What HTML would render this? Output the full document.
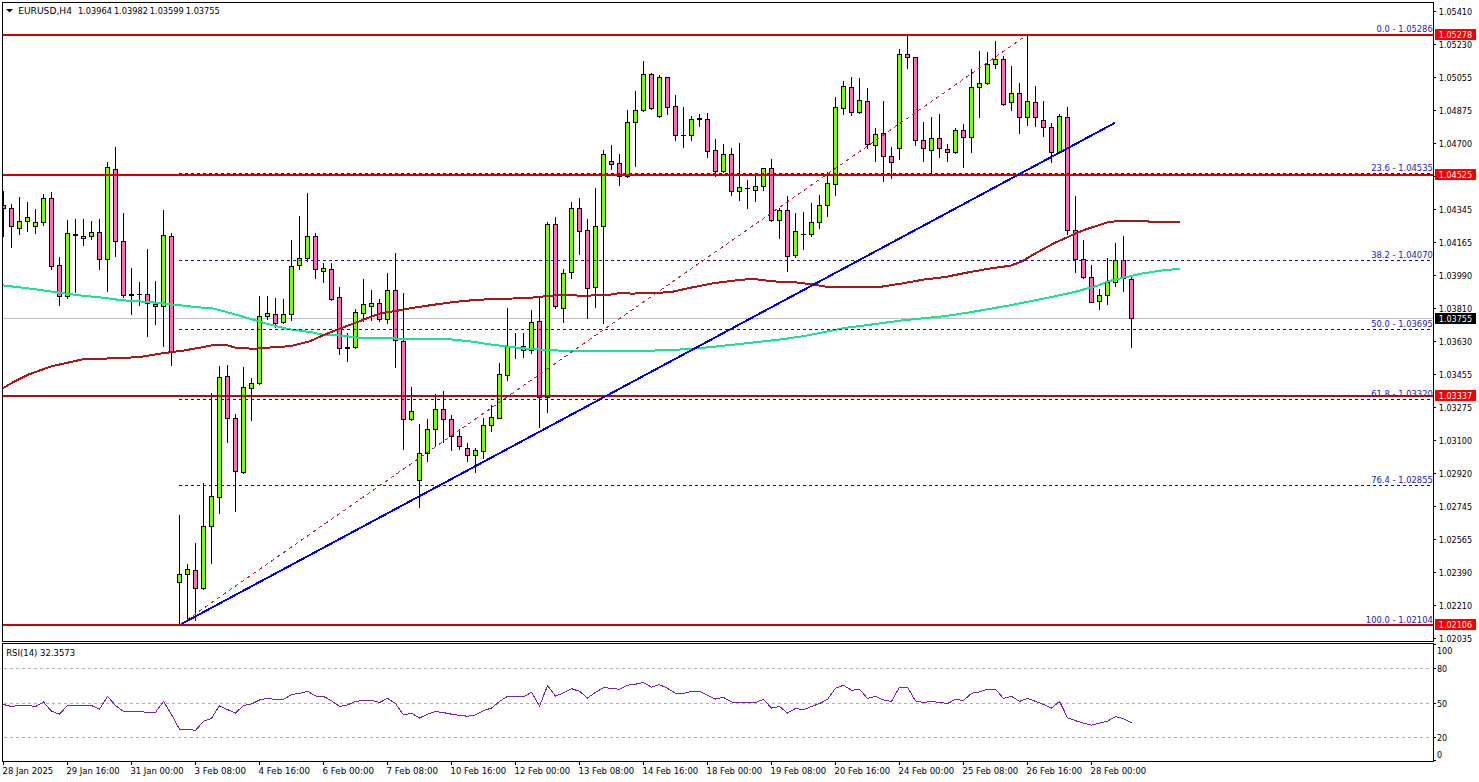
<!DOCTYPE html>
<html><head><meta charset="utf-8"><title>EURUSD,H4</title>
<style>html,body{margin:0;padding:0;background:#fff;width:1479px;height:782px;overflow:hidden}svg{display:block}</style>
</head><body>
<svg width="1479" height="782" viewBox="0 0 1479 782" font-family="'DejaVu Sans Condensed', 'DejaVu Sans', 'Liberation Sans', sans-serif">
<rect x="0" y="0" width="1479" height="782" fill="#fff"/>
<rect x="3" y="318" width="1430" height="1" fill="#c0c0c0"/>
<defs><clipPath id="cc"><rect x="3" y="3" width="1430" height="638"/></clipPath></defs>
<g clip-path="url(#cc)">
<g shape-rendering="crispEdges">
<rect x="3" y="191" width="1" height="46" fill="#000"/>
<rect x="1" y="205" width="5" height="4" fill="#000"/>
<rect x="2" y="206" width="3" height="2" fill="#ff6eb4"/>
<rect x="11" y="204" width="1" height="44" fill="#000"/>
<rect x="9" y="208" width="5" height="19" fill="#000"/>
<rect x="10" y="209" width="3" height="17" fill="#ff6eb4"/>
<rect x="19" y="197" width="1" height="38" fill="#000"/>
<rect x="17" y="221" width="5" height="8" fill="#000"/>
<rect x="18" y="222" width="3" height="6" fill="#82f814"/>
<rect x="27" y="202" width="1" height="30" fill="#000"/>
<rect x="25" y="217" width="5" height="5" fill="#000"/>
<rect x="26" y="218" width="3" height="3" fill="#82f814"/>
<rect x="35" y="209" width="1" height="25" fill="#000"/>
<rect x="33" y="222" width="5" height="5" fill="#000"/>
<rect x="34" y="223" width="3" height="3" fill="#82f814"/>
<rect x="43" y="194" width="1" height="32" fill="#000"/>
<rect x="41" y="198" width="5" height="25" fill="#000"/>
<rect x="42" y="199" width="3" height="23" fill="#82f814"/>
<rect x="51" y="192" width="1" height="78" fill="#000"/>
<rect x="49" y="198" width="5" height="69" fill="#000"/>
<rect x="50" y="199" width="3" height="67" fill="#ff6eb4"/>
<rect x="59" y="257" width="1" height="49" fill="#000"/>
<rect x="57" y="265" width="5" height="32" fill="#000"/>
<rect x="58" y="266" width="3" height="30" fill="#ff6eb4"/>
<rect x="67" y="220" width="1" height="79" fill="#000"/>
<rect x="65" y="233" width="5" height="64" fill="#000"/>
<rect x="66" y="234" width="3" height="62" fill="#82f814"/>
<rect x="75" y="219" width="1" height="74" fill="#000"/>
<rect x="73" y="234" width="5" height="2" fill="#000"/>
<rect x="83" y="219" width="1" height="27" fill="#000"/>
<rect x="81" y="236" width="5" height="3" fill="#000"/>
<rect x="82" y="237" width="3" height="1" fill="#82f814"/>
<rect x="91" y="221" width="1" height="19" fill="#000"/>
<rect x="89" y="232" width="5" height="5" fill="#000"/>
<rect x="90" y="233" width="3" height="3" fill="#82f814"/>
<rect x="99" y="219" width="1" height="51" fill="#000"/>
<rect x="97" y="232" width="5" height="28" fill="#000"/>
<rect x="98" y="233" width="3" height="26" fill="#ff6eb4"/>
<rect x="107" y="162" width="1" height="130" fill="#000"/>
<rect x="105" y="167" width="5" height="93" fill="#000"/>
<rect x="106" y="168" width="3" height="91" fill="#82f814"/>
<rect x="115" y="147" width="1" height="110" fill="#000"/>
<rect x="113" y="169" width="5" height="73" fill="#000"/>
<rect x="114" y="170" width="3" height="71" fill="#ff6eb4"/>
<rect x="123" y="213" width="1" height="85" fill="#000"/>
<rect x="121" y="241" width="5" height="55" fill="#000"/>
<rect x="122" y="242" width="3" height="53" fill="#ff6eb4"/>
<rect x="131" y="268" width="1" height="47" fill="#000"/>
<rect x="129" y="294" width="5" height="2" fill="#000"/>
<rect x="139" y="282" width="1" height="24" fill="#000"/>
<rect x="137" y="294" width="5" height="1" fill="#000"/>
<rect x="147" y="249" width="1" height="88" fill="#000"/>
<rect x="145" y="294" width="5" height="10" fill="#000"/>
<rect x="146" y="295" width="3" height="8" fill="#ff6eb4"/>
<rect x="155" y="281" width="1" height="44" fill="#000"/>
<rect x="153" y="304" width="5" height="3" fill="#000"/>
<rect x="154" y="305" width="3" height="1" fill="#ff6eb4"/>
<rect x="163" y="210" width="1" height="137" fill="#000"/>
<rect x="161" y="235" width="5" height="72" fill="#000"/>
<rect x="162" y="236" width="3" height="70" fill="#82f814"/>
<rect x="171" y="233" width="1" height="133" fill="#000"/>
<rect x="169" y="236" width="5" height="116" fill="#000"/>
<rect x="170" y="237" width="3" height="114" fill="#ff6eb4"/>
<rect x="179" y="515" width="1" height="109" fill="#000"/>
<rect x="177" y="574" width="5" height="9" fill="#000"/>
<rect x="178" y="575" width="3" height="7" fill="#82f814"/>
<rect x="187" y="564" width="1" height="55" fill="#000"/>
<rect x="185" y="569" width="5" height="6" fill="#000"/>
<rect x="186" y="570" width="3" height="4" fill="#82f814"/>
<rect x="195" y="543" width="1" height="78" fill="#000"/>
<rect x="193" y="570" width="5" height="19" fill="#000"/>
<rect x="194" y="571" width="3" height="17" fill="#ff6eb4"/>
<rect x="203" y="483" width="1" height="107" fill="#000"/>
<rect x="201" y="526" width="5" height="63" fill="#000"/>
<rect x="202" y="527" width="3" height="61" fill="#82f814"/>
<rect x="211" y="393" width="1" height="171" fill="#000"/>
<rect x="209" y="496" width="5" height="31" fill="#000"/>
<rect x="210" y="497" width="3" height="29" fill="#82f814"/>
<rect x="219" y="366" width="1" height="148" fill="#000"/>
<rect x="217" y="377" width="5" height="121" fill="#000"/>
<rect x="218" y="378" width="3" height="119" fill="#82f814"/>
<rect x="227" y="365" width="1" height="78" fill="#000"/>
<rect x="225" y="376" width="5" height="43" fill="#000"/>
<rect x="226" y="377" width="3" height="41" fill="#ff6eb4"/>
<rect x="235" y="414" width="1" height="98" fill="#000"/>
<rect x="233" y="418" width="5" height="54" fill="#000"/>
<rect x="234" y="419" width="3" height="52" fill="#ff6eb4"/>
<rect x="243" y="367" width="1" height="107" fill="#000"/>
<rect x="241" y="387" width="5" height="86" fill="#000"/>
<rect x="242" y="388" width="3" height="84" fill="#82f814"/>
<rect x="251" y="378" width="1" height="43" fill="#000"/>
<rect x="249" y="383" width="5" height="6" fill="#000"/>
<rect x="250" y="384" width="3" height="4" fill="#82f814"/>
<rect x="259" y="296" width="1" height="89" fill="#000"/>
<rect x="257" y="316" width="5" height="68" fill="#000"/>
<rect x="258" y="317" width="3" height="66" fill="#82f814"/>
<rect x="267" y="296" width="1" height="24" fill="#000"/>
<rect x="265" y="313" width="5" height="4" fill="#000"/>
<rect x="266" y="314" width="3" height="2" fill="#82f814"/>
<rect x="275" y="298" width="1" height="30" fill="#000"/>
<rect x="273" y="314" width="5" height="10" fill="#000"/>
<rect x="274" y="315" width="3" height="8" fill="#ff6eb4"/>
<rect x="283" y="299" width="1" height="25" fill="#000"/>
<rect x="281" y="314" width="5" height="9" fill="#000"/>
<rect x="282" y="315" width="3" height="7" fill="#82f814"/>
<rect x="291" y="240" width="1" height="81" fill="#000"/>
<rect x="289" y="266" width="5" height="49" fill="#000"/>
<rect x="290" y="267" width="3" height="47" fill="#82f814"/>
<rect x="299" y="216" width="1" height="54" fill="#000"/>
<rect x="297" y="258" width="5" height="8" fill="#000"/>
<rect x="298" y="259" width="3" height="6" fill="#82f814"/>
<rect x="307" y="193" width="1" height="69" fill="#000"/>
<rect x="305" y="236" width="5" height="23" fill="#000"/>
<rect x="306" y="237" width="3" height="21" fill="#82f814"/>
<rect x="315" y="233" width="1" height="46" fill="#000"/>
<rect x="313" y="236" width="5" height="34" fill="#000"/>
<rect x="314" y="237" width="3" height="32" fill="#ff6eb4"/>
<rect x="323" y="263" width="1" height="20" fill="#000"/>
<rect x="321" y="268" width="5" height="4" fill="#000"/>
<rect x="322" y="269" width="3" height="2" fill="#82f814"/>
<rect x="331" y="263" width="1" height="38" fill="#000"/>
<rect x="329" y="269" width="5" height="31" fill="#000"/>
<rect x="330" y="270" width="3" height="29" fill="#ff6eb4"/>
<rect x="339" y="287" width="1" height="68" fill="#000"/>
<rect x="337" y="297" width="5" height="52" fill="#000"/>
<rect x="338" y="298" width="3" height="50" fill="#ff6eb4"/>
<rect x="347" y="333" width="1" height="29" fill="#000"/>
<rect x="345" y="347" width="5" height="2" fill="#000"/>
<rect x="355" y="309" width="1" height="40" fill="#000"/>
<rect x="353" y="312" width="5" height="36" fill="#000"/>
<rect x="354" y="313" width="3" height="34" fill="#82f814"/>
<rect x="363" y="279" width="1" height="43" fill="#000"/>
<rect x="361" y="304" width="5" height="10" fill="#000"/>
<rect x="362" y="305" width="3" height="8" fill="#82f814"/>
<rect x="371" y="290" width="1" height="31" fill="#000"/>
<rect x="369" y="303" width="5" height="4" fill="#000"/>
<rect x="370" y="304" width="3" height="2" fill="#82f814"/>
<rect x="379" y="299" width="1" height="23" fill="#000"/>
<rect x="377" y="303" width="5" height="17" fill="#000"/>
<rect x="378" y="304" width="3" height="15" fill="#ff6eb4"/>
<rect x="387" y="273" width="1" height="51" fill="#000"/>
<rect x="385" y="290" width="5" height="30" fill="#000"/>
<rect x="386" y="291" width="3" height="28" fill="#82f814"/>
<rect x="395" y="253" width="1" height="115" fill="#000"/>
<rect x="393" y="290" width="5" height="51" fill="#000"/>
<rect x="394" y="291" width="3" height="49" fill="#ff6eb4"/>
<rect x="403" y="293" width="1" height="157" fill="#000"/>
<rect x="401" y="341" width="5" height="79" fill="#000"/>
<rect x="402" y="342" width="3" height="77" fill="#ff6eb4"/>
<rect x="411" y="387" width="1" height="34" fill="#000"/>
<rect x="409" y="411" width="5" height="9" fill="#000"/>
<rect x="410" y="412" width="3" height="7" fill="#82f814"/>
<rect x="419" y="424" width="1" height="84" fill="#000"/>
<rect x="417" y="453" width="5" height="28" fill="#000"/>
<rect x="418" y="454" width="3" height="26" fill="#82f814"/>
<rect x="427" y="419" width="1" height="43" fill="#000"/>
<rect x="425" y="429" width="5" height="25" fill="#000"/>
<rect x="426" y="430" width="3" height="23" fill="#82f814"/>
<rect x="435" y="394" width="1" height="53" fill="#000"/>
<rect x="433" y="409" width="5" height="21" fill="#000"/>
<rect x="434" y="410" width="3" height="19" fill="#82f814"/>
<rect x="443" y="391" width="1" height="52" fill="#000"/>
<rect x="441" y="409" width="5" height="11" fill="#000"/>
<rect x="442" y="410" width="3" height="9" fill="#ff6eb4"/>
<rect x="451" y="415" width="1" height="36" fill="#000"/>
<rect x="449" y="419" width="5" height="18" fill="#000"/>
<rect x="450" y="420" width="3" height="16" fill="#ff6eb4"/>
<rect x="459" y="429" width="1" height="21" fill="#000"/>
<rect x="457" y="436" width="5" height="11" fill="#000"/>
<rect x="458" y="437" width="3" height="9" fill="#ff6eb4"/>
<rect x="467" y="443" width="1" height="19" fill="#000"/>
<rect x="465" y="448" width="5" height="8" fill="#000"/>
<rect x="466" y="449" width="3" height="6" fill="#ff6eb4"/>
<rect x="475" y="448" width="1" height="25" fill="#000"/>
<rect x="473" y="450" width="5" height="6" fill="#000"/>
<rect x="474" y="451" width="3" height="4" fill="#82f814"/>
<rect x="483" y="418" width="1" height="41" fill="#000"/>
<rect x="481" y="425" width="5" height="27" fill="#000"/>
<rect x="482" y="426" width="3" height="25" fill="#82f814"/>
<rect x="491" y="405" width="1" height="27" fill="#000"/>
<rect x="489" y="417" width="5" height="9" fill="#000"/>
<rect x="490" y="418" width="3" height="7" fill="#82f814"/>
<rect x="499" y="363" width="1" height="56" fill="#000"/>
<rect x="497" y="374" width="5" height="45" fill="#000"/>
<rect x="498" y="375" width="3" height="43" fill="#82f814"/>
<rect x="507" y="308" width="1" height="73" fill="#000"/>
<rect x="505" y="346" width="5" height="30" fill="#000"/>
<rect x="506" y="347" width="3" height="28" fill="#82f814"/>
<rect x="515" y="333" width="1" height="26" fill="#000"/>
<rect x="513" y="347" width="5" height="1" fill="#000"/>
<rect x="523" y="333" width="1" height="25" fill="#000"/>
<rect x="521" y="346" width="5" height="5" fill="#000"/>
<rect x="522" y="347" width="3" height="3" fill="#82f814"/>
<rect x="531" y="310" width="1" height="44" fill="#000"/>
<rect x="529" y="322" width="5" height="29" fill="#000"/>
<rect x="530" y="323" width="3" height="27" fill="#82f814"/>
<rect x="539" y="298" width="1" height="130" fill="#000"/>
<rect x="537" y="321" width="5" height="77" fill="#000"/>
<rect x="538" y="322" width="3" height="75" fill="#ff6eb4"/>
<rect x="547" y="222" width="1" height="191" fill="#000"/>
<rect x="545" y="224" width="5" height="174" fill="#000"/>
<rect x="546" y="225" width="3" height="172" fill="#82f814"/>
<rect x="555" y="217" width="1" height="92" fill="#000"/>
<rect x="553" y="224" width="5" height="83" fill="#000"/>
<rect x="554" y="225" width="3" height="81" fill="#ff6eb4"/>
<rect x="563" y="269" width="1" height="54" fill="#000"/>
<rect x="561" y="273" width="5" height="36" fill="#000"/>
<rect x="562" y="274" width="3" height="34" fill="#82f814"/>
<rect x="571" y="202" width="1" height="77" fill="#000"/>
<rect x="569" y="208" width="5" height="65" fill="#000"/>
<rect x="570" y="209" width="3" height="63" fill="#82f814"/>
<rect x="579" y="198" width="1" height="57" fill="#000"/>
<rect x="577" y="208" width="5" height="24" fill="#000"/>
<rect x="578" y="209" width="3" height="22" fill="#ff6eb4"/>
<rect x="587" y="219" width="1" height="100" fill="#000"/>
<rect x="585" y="230" width="5" height="59" fill="#000"/>
<rect x="586" y="231" width="3" height="57" fill="#ff6eb4"/>
<rect x="595" y="188" width="1" height="120" fill="#000"/>
<rect x="593" y="226" width="5" height="62" fill="#000"/>
<rect x="594" y="227" width="3" height="60" fill="#82f814"/>
<rect x="603" y="150" width="1" height="174" fill="#000"/>
<rect x="601" y="154" width="5" height="73" fill="#000"/>
<rect x="602" y="155" width="3" height="71" fill="#82f814"/>
<rect x="611" y="145" width="1" height="25" fill="#000"/>
<rect x="609" y="161" width="5" height="4" fill="#000"/>
<rect x="610" y="162" width="3" height="2" fill="#ff6eb4"/>
<rect x="619" y="154" width="1" height="32" fill="#000"/>
<rect x="617" y="163" width="5" height="14" fill="#000"/>
<rect x="618" y="164" width="3" height="12" fill="#ff6eb4"/>
<rect x="627" y="110" width="1" height="68" fill="#000"/>
<rect x="625" y="122" width="5" height="55" fill="#000"/>
<rect x="626" y="123" width="3" height="53" fill="#82f814"/>
<rect x="635" y="91" width="1" height="76" fill="#000"/>
<rect x="633" y="110" width="5" height="13" fill="#000"/>
<rect x="634" y="111" width="3" height="11" fill="#82f814"/>
<rect x="643" y="61" width="1" height="51" fill="#000"/>
<rect x="641" y="74" width="5" height="37" fill="#000"/>
<rect x="642" y="75" width="3" height="35" fill="#82f814"/>
<rect x="651" y="73" width="1" height="37" fill="#000"/>
<rect x="649" y="74" width="5" height="35" fill="#000"/>
<rect x="650" y="75" width="3" height="33" fill="#ff6eb4"/>
<rect x="659" y="75" width="1" height="43" fill="#000"/>
<rect x="657" y="77" width="5" height="40" fill="#000"/>
<rect x="658" y="78" width="3" height="38" fill="#82f814"/>
<rect x="667" y="77" width="1" height="38" fill="#000"/>
<rect x="665" y="77" width="5" height="31" fill="#000"/>
<rect x="666" y="78" width="3" height="29" fill="#ff6eb4"/>
<rect x="675" y="95" width="1" height="46" fill="#000"/>
<rect x="673" y="106" width="5" height="30" fill="#000"/>
<rect x="674" y="107" width="3" height="28" fill="#ff6eb4"/>
<rect x="683" y="107" width="1" height="41" fill="#000"/>
<rect x="681" y="135" width="5" height="1" fill="#000"/>
<rect x="691" y="116" width="1" height="25" fill="#000"/>
<rect x="689" y="119" width="5" height="17" fill="#000"/>
<rect x="690" y="120" width="3" height="15" fill="#82f814"/>
<rect x="699" y="114" width="1" height="13" fill="#000"/>
<rect x="697" y="118" width="5" height="2" fill="#000"/>
<rect x="707" y="113" width="1" height="45" fill="#000"/>
<rect x="705" y="119" width="5" height="33" fill="#000"/>
<rect x="706" y="120" width="3" height="31" fill="#ff6eb4"/>
<rect x="715" y="139" width="1" height="38" fill="#000"/>
<rect x="713" y="150" width="5" height="22" fill="#000"/>
<rect x="714" y="151" width="3" height="20" fill="#ff6eb4"/>
<rect x="723" y="144" width="1" height="29" fill="#000"/>
<rect x="721" y="154" width="5" height="18" fill="#000"/>
<rect x="722" y="155" width="3" height="16" fill="#82f814"/>
<rect x="731" y="148" width="1" height="48" fill="#000"/>
<rect x="729" y="154" width="5" height="38" fill="#000"/>
<rect x="730" y="155" width="3" height="36" fill="#ff6eb4"/>
<rect x="739" y="143" width="1" height="58" fill="#000"/>
<rect x="737" y="187" width="5" height="5" fill="#000"/>
<rect x="738" y="188" width="3" height="3" fill="#82f814"/>
<rect x="747" y="180" width="1" height="29" fill="#000"/>
<rect x="745" y="188" width="5" height="1" fill="#000"/>
<rect x="755" y="176" width="1" height="26" fill="#000"/>
<rect x="753" y="186" width="5" height="5" fill="#000"/>
<rect x="754" y="187" width="3" height="3" fill="#82f814"/>
<rect x="763" y="168" width="1" height="23" fill="#000"/>
<rect x="761" y="168" width="5" height="19" fill="#000"/>
<rect x="762" y="169" width="3" height="17" fill="#82f814"/>
<rect x="771" y="159" width="1" height="63" fill="#000"/>
<rect x="769" y="168" width="5" height="53" fill="#000"/>
<rect x="770" y="169" width="3" height="51" fill="#ff6eb4"/>
<rect x="779" y="208" width="1" height="31" fill="#000"/>
<rect x="777" y="210" width="5" height="11" fill="#000"/>
<rect x="778" y="211" width="3" height="9" fill="#82f814"/>
<rect x="787" y="196" width="1" height="76" fill="#000"/>
<rect x="785" y="210" width="5" height="47" fill="#000"/>
<rect x="786" y="211" width="3" height="45" fill="#ff6eb4"/>
<rect x="795" y="213" width="1" height="45" fill="#000"/>
<rect x="793" y="231" width="5" height="25" fill="#000"/>
<rect x="794" y="232" width="3" height="23" fill="#82f814"/>
<rect x="803" y="212" width="1" height="38" fill="#000"/>
<rect x="801" y="234" width="5" height="1" fill="#000"/>
<rect x="811" y="203" width="1" height="34" fill="#000"/>
<rect x="809" y="222" width="5" height="13" fill="#000"/>
<rect x="810" y="223" width="3" height="11" fill="#82f814"/>
<rect x="819" y="195" width="1" height="34" fill="#000"/>
<rect x="817" y="205" width="5" height="18" fill="#000"/>
<rect x="818" y="206" width="3" height="16" fill="#82f814"/>
<rect x="827" y="172" width="1" height="45" fill="#000"/>
<rect x="825" y="183" width="5" height="23" fill="#000"/>
<rect x="826" y="184" width="3" height="21" fill="#82f814"/>
<rect x="835" y="97" width="1" height="99" fill="#000"/>
<rect x="833" y="107" width="5" height="78" fill="#000"/>
<rect x="834" y="108" width="3" height="76" fill="#82f814"/>
<rect x="843" y="81" width="1" height="34" fill="#000"/>
<rect x="841" y="86" width="5" height="23" fill="#000"/>
<rect x="842" y="87" width="3" height="21" fill="#82f814"/>
<rect x="851" y="77" width="1" height="39" fill="#000"/>
<rect x="849" y="87" width="5" height="26" fill="#000"/>
<rect x="850" y="88" width="3" height="24" fill="#ff6eb4"/>
<rect x="859" y="78" width="1" height="36" fill="#000"/>
<rect x="857" y="100" width="5" height="13" fill="#000"/>
<rect x="858" y="101" width="3" height="11" fill="#82f814"/>
<rect x="867" y="88" width="1" height="61" fill="#000"/>
<rect x="865" y="101" width="5" height="44" fill="#000"/>
<rect x="866" y="102" width="3" height="42" fill="#ff6eb4"/>
<rect x="875" y="128" width="1" height="34" fill="#000"/>
<rect x="873" y="134" width="5" height="12" fill="#000"/>
<rect x="874" y="135" width="3" height="10" fill="#82f814"/>
<rect x="883" y="101" width="1" height="81" fill="#000"/>
<rect x="881" y="133" width="5" height="24" fill="#000"/>
<rect x="882" y="134" width="3" height="22" fill="#ff6eb4"/>
<rect x="891" y="147" width="1" height="32" fill="#000"/>
<rect x="889" y="156" width="5" height="7" fill="#000"/>
<rect x="890" y="157" width="3" height="5" fill="#ff6eb4"/>
<rect x="899" y="49" width="1" height="111" fill="#000"/>
<rect x="897" y="54" width="5" height="95" fill="#000"/>
<rect x="898" y="55" width="3" height="93" fill="#82f814"/>
<rect x="907" y="36" width="1" height="33" fill="#000"/>
<rect x="905" y="54" width="5" height="4" fill="#000"/>
<rect x="906" y="55" width="3" height="2" fill="#ff6eb4"/>
<rect x="915" y="57" width="1" height="89" fill="#000"/>
<rect x="913" y="57" width="5" height="84" fill="#000"/>
<rect x="914" y="58" width="3" height="82" fill="#ff6eb4"/>
<rect x="923" y="122" width="1" height="40" fill="#000"/>
<rect x="921" y="140" width="5" height="9" fill="#000"/>
<rect x="922" y="141" width="3" height="7" fill="#ff6eb4"/>
<rect x="931" y="117" width="1" height="57" fill="#000"/>
<rect x="929" y="138" width="5" height="13" fill="#000"/>
<rect x="930" y="139" width="3" height="11" fill="#82f814"/>
<rect x="939" y="114" width="1" height="44" fill="#000"/>
<rect x="937" y="138" width="5" height="11" fill="#000"/>
<rect x="938" y="139" width="3" height="9" fill="#ff6eb4"/>
<rect x="947" y="144" width="1" height="18" fill="#000"/>
<rect x="945" y="149" width="5" height="4" fill="#000"/>
<rect x="946" y="150" width="3" height="2" fill="#ff6eb4"/>
<rect x="955" y="128" width="1" height="26" fill="#000"/>
<rect x="953" y="130" width="5" height="23" fill="#000"/>
<rect x="954" y="131" width="3" height="21" fill="#82f814"/>
<rect x="963" y="124" width="1" height="44" fill="#000"/>
<rect x="961" y="130" width="5" height="8" fill="#000"/>
<rect x="962" y="131" width="3" height="6" fill="#ff6eb4"/>
<rect x="971" y="69" width="1" height="84" fill="#000"/>
<rect x="969" y="87" width="5" height="51" fill="#000"/>
<rect x="970" y="88" width="3" height="49" fill="#82f814"/>
<rect x="979" y="51" width="1" height="67" fill="#000"/>
<rect x="977" y="83" width="5" height="5" fill="#000"/>
<rect x="978" y="84" width="3" height="3" fill="#82f814"/>
<rect x="987" y="52" width="1" height="33" fill="#000"/>
<rect x="985" y="64" width="5" height="20" fill="#000"/>
<rect x="986" y="65" width="3" height="18" fill="#82f814"/>
<rect x="995" y="41" width="1" height="28" fill="#000"/>
<rect x="993" y="59" width="5" height="6" fill="#000"/>
<rect x="994" y="60" width="3" height="4" fill="#82f814"/>
<rect x="1003" y="56" width="1" height="50" fill="#000"/>
<rect x="1001" y="59" width="5" height="46" fill="#000"/>
<rect x="1002" y="60" width="3" height="44" fill="#ff6eb4"/>
<rect x="1011" y="66" width="1" height="45" fill="#000"/>
<rect x="1009" y="93" width="5" height="10" fill="#000"/>
<rect x="1010" y="94" width="3" height="8" fill="#82f814"/>
<rect x="1019" y="83" width="1" height="51" fill="#000"/>
<rect x="1017" y="93" width="5" height="25" fill="#000"/>
<rect x="1018" y="94" width="3" height="23" fill="#ff6eb4"/>
<rect x="1027" y="36" width="1" height="90" fill="#000"/>
<rect x="1025" y="101" width="5" height="17" fill="#000"/>
<rect x="1026" y="102" width="3" height="15" fill="#82f814"/>
<rect x="1035" y="86" width="1" height="41" fill="#000"/>
<rect x="1033" y="102" width="5" height="16" fill="#000"/>
<rect x="1034" y="103" width="3" height="14" fill="#ff6eb4"/>
<rect x="1043" y="101" width="1" height="36" fill="#000"/>
<rect x="1041" y="120" width="5" height="8" fill="#000"/>
<rect x="1042" y="121" width="3" height="6" fill="#ff6eb4"/>
<rect x="1051" y="123" width="1" height="40" fill="#000"/>
<rect x="1049" y="127" width="5" height="26" fill="#000"/>
<rect x="1050" y="128" width="3" height="24" fill="#ff6eb4"/>
<rect x="1059" y="114" width="1" height="40" fill="#000"/>
<rect x="1057" y="116" width="5" height="37" fill="#000"/>
<rect x="1058" y="117" width="3" height="35" fill="#82f814"/>
<rect x="1067" y="107" width="1" height="128" fill="#000"/>
<rect x="1065" y="117" width="5" height="114" fill="#000"/>
<rect x="1066" y="118" width="3" height="112" fill="#ff6eb4"/>
<rect x="1075" y="196" width="1" height="77" fill="#000"/>
<rect x="1073" y="230" width="5" height="30" fill="#000"/>
<rect x="1074" y="231" width="3" height="28" fill="#ff6eb4"/>
<rect x="1083" y="240" width="1" height="39" fill="#000"/>
<rect x="1081" y="259" width="5" height="19" fill="#000"/>
<rect x="1082" y="260" width="3" height="17" fill="#ff6eb4"/>
<rect x="1091" y="265" width="1" height="38" fill="#000"/>
<rect x="1089" y="277" width="5" height="26" fill="#000"/>
<rect x="1090" y="278" width="3" height="24" fill="#ff6eb4"/>
<rect x="1099" y="289" width="1" height="21" fill="#000"/>
<rect x="1097" y="295" width="5" height="7" fill="#000"/>
<rect x="1098" y="296" width="3" height="5" fill="#82f814"/>
<rect x="1107" y="258" width="1" height="47" fill="#000"/>
<rect x="1105" y="282" width="5" height="14" fill="#000"/>
<rect x="1106" y="283" width="3" height="12" fill="#82f814"/>
<rect x="1115" y="243" width="1" height="44" fill="#000"/>
<rect x="1113" y="260" width="5" height="23" fill="#000"/>
<rect x="1114" y="261" width="3" height="21" fill="#82f814"/>
<rect x="1123" y="236" width="1" height="56" fill="#000"/>
<rect x="1121" y="260" width="5" height="19" fill="#000"/>
<rect x="1122" y="261" width="3" height="17" fill="#ff6eb4"/>
<rect x="1131" y="276" width="1" height="72" fill="#000"/>
<rect x="1129" y="279" width="5" height="40" fill="#000"/>
<rect x="1130" y="280" width="3" height="38" fill="#ff6eb4"/>
</g>
<polyline points="3.0,285.4 20.3,287.4 40.6,290.0 60.9,293.0 81.0,295.5 101.4,297.5 121.7,300.2 142.0,301.6 162.3,303.2 182.6,305.6 202.8,307.7 211.0,308.0 223.0,311.0 243.4,316.8 263.7,322.9 284.0,328.0 290.0,329.4 310.3,332.0 322.5,334.6 340.7,335.5 361.0,338.0 381.3,338.0 401.6,338.7 432.0,338.7 452.3,339.5 472.6,341.7 492.8,344.8 513.0,347.2 533.4,349.2 553.7,350.3 574.0,351.3 620.6,350.8 667.2,350.4 701.7,348.0 742.3,343.7 782.8,339.2 803.1,336.2 823.4,332.2 843.7,328.1 864.0,325.5 880.0,323.4 901.7,320.4 923.5,318.3 945.2,316.1 967.0,312.8 988.7,309.1 1010.4,305.2 1032.2,300.9 1053.9,296.5 1075.7,291.7 1097.4,285.7 1108.3,281.3 1119.1,278.7 1140.9,273.7 1162.6,270.4 1180.0,268.7" fill="none" stroke="#1ee08e" stroke-width="2" stroke-linejoin="round" shape-rendering="crispEdges"/>
<polyline points="3.0,388.2 12.2,382.7 28.4,374.6 50.7,366.5 85.2,358.8 115.6,358.4 140.0,357.0 162.3,353.3 182.6,350.7 202.8,347.2 215.0,344.8 227.0,345.2 235.3,347.6 253.5,348.8 273.8,347.2 290.0,346.2 310.3,341.1 322.5,335.5 338.7,329.0 350.9,324.5 371.1,316.8 381.3,313.1 397.5,310.7 411.7,308.0 432.0,305.0 452.3,302.2 472.6,300.2 492.8,299.0 513.0,298.5 533.4,297.5 553.7,295.5 574.0,294.9 580.0,296.0 610.4,294.6 622.6,292.6 630.7,293.6 651.0,293.2 671.3,292.0 691.6,287.5 711.8,283.5 732.1,280.8 752.4,278.8 772.7,281.4 793.0,282.0 813.3,284.5 827.5,286.9 853.8,286.9 880.0,286.9 901.7,283.5 923.5,279.6 945.2,277.0 967.0,272.6 988.7,268.7 1010.4,265.7 1021.3,261.7 1032.2,255.2 1053.9,243.3 1075.7,233.5 1086.5,229.1 1108.3,222.2 1119.1,220.9 1147.4,220.9 1149.6,222.0 1180.0,222.0" fill="none" stroke="#a01c1c" stroke-width="2" stroke-linejoin="round" shape-rendering="crispEdges"/>
<line x1="179" y1="173.5" x2="1433" y2="173.5" stroke="#121266" stroke-width="1" stroke-dasharray="3,3" shape-rendering="crispEdges"/>
<line x1="179" y1="260.5" x2="1433" y2="260.5" stroke="#121266" stroke-width="1" stroke-dasharray="3,3" shape-rendering="crispEdges"/>
<line x1="179" y1="329.5" x2="1433" y2="329.5" stroke="#121266" stroke-width="1" stroke-dasharray="3,3" shape-rendering="crispEdges"/>
<line x1="179" y1="399.5" x2="1433" y2="399.5" stroke="#121266" stroke-width="1" stroke-dasharray="3,3" shape-rendering="crispEdges"/>
<line x1="179" y1="485.5" x2="1433" y2="485.5" stroke="#121266" stroke-width="1" stroke-dasharray="3,3" shape-rendering="crispEdges"/>
<line x1="181" y1="624" x2="1027" y2="35" stroke="#b02828" stroke-width="1" stroke-dasharray="3.7,3.6" shape-rendering="crispEdges"/>
<text x="1432.8" y="32" fill="#1c1ca8" font-size="9.0" text-anchor="end" textLength="56.29" lengthAdjust="spacingAndGlyphs">0.0 - 1.05286</text>
<text x="1432.8" y="171" fill="#1c1ca8" font-size="9.0" text-anchor="end" textLength="61.6" lengthAdjust="spacingAndGlyphs">23.6 - 1.04535</text>
<text x="1432.8" y="258" fill="#1c1ca8" font-size="9.0" text-anchor="end" textLength="61.6" lengthAdjust="spacingAndGlyphs">38.2 - 1.04070</text>
<text x="1432.8" y="327" fill="#1c1ca8" font-size="9.0" text-anchor="end" textLength="61.6" lengthAdjust="spacingAndGlyphs">50.0 - 1.03695</text>
<text x="1432.8" y="397" fill="#1c1ca8" font-size="9.0" text-anchor="end" textLength="61.6" lengthAdjust="spacingAndGlyphs">61.8 - 1.03320</text>
<text x="1432.8" y="483" fill="#1c1ca8" font-size="9.0" text-anchor="end" textLength="61.6" lengthAdjust="spacingAndGlyphs">76.4 - 1.02855</text>
<text x="1432.8" y="623" fill="#1c1ca8" font-size="9.0" text-anchor="end" textLength="66.91" lengthAdjust="spacingAndGlyphs">100.0 - 1.02104</text>
<rect x="3" y="34" width="1430" height="2" fill="#d40000"/>
<rect x="3" y="174" width="1430" height="2" fill="#d40000"/>
<rect x="3" y="395" width="1430" height="2" fill="#9e1414"/>
<rect x="3" y="624" width="1430" height="2" fill="#d40000"/>
<line x1="181.5" y1="623.9" x2="1115" y2="122.8" stroke="#0000d8" stroke-width="2" shape-rendering="crispEdges"/>
</g>
<g shape-rendering="crispEdges" fill="none" stroke="#000" stroke-width="1">
<rect x="2.5" y="2.5" width="1431" height="639"/>
<rect x="2.5" y="643.5" width="1431" height="118"/>
</g>
<path d="M6,9 L13,9 L9.5,12.5 Z" fill="#000"/>
<text x="18.2" y="14" fill="#000" font-size="9.0" textLength="53.8" lengthAdjust="spacingAndGlyphs">EURUSD,H4</text>
<text x="78.0" y="14" fill="#000" font-size="9.0" textLength="34.0" lengthAdjust="spacingAndGlyphs">1.03964</text>
<text x="113.9" y="14" fill="#000" font-size="9.0" textLength="34.0" lengthAdjust="spacingAndGlyphs">1.03982</text>
<text x="149.8" y="14" fill="#000" font-size="9.0" textLength="34.0" lengthAdjust="spacingAndGlyphs">1.03599</text>
<text x="185.8" y="14" fill="#000" font-size="9.0" textLength="34.0" lengthAdjust="spacingAndGlyphs">1.03755</text>
<g shape-rendering="crispEdges">
<rect x="1434" y="11" width="2" height="1" fill="#000"/>
<rect x="1434" y="44" width="2" height="1" fill="#000"/>
<rect x="1434" y="77" width="2" height="1" fill="#000"/>
<rect x="1434" y="110" width="2" height="1" fill="#000"/>
<rect x="1434" y="143" width="2" height="1" fill="#000"/>
<rect x="1434" y="176" width="2" height="1" fill="#000"/>
<rect x="1434" y="209" width="2" height="1" fill="#000"/>
<rect x="1434" y="242" width="2" height="1" fill="#000"/>
<rect x="1434" y="275" width="2" height="1" fill="#000"/>
<rect x="1434" y="308" width="2" height="1" fill="#000"/>
<rect x="1434" y="341" width="2" height="1" fill="#000"/>
<rect x="1434" y="374" width="2" height="1" fill="#000"/>
<rect x="1434" y="407" width="2" height="1" fill="#000"/>
<rect x="1434" y="440" width="2" height="1" fill="#000"/>
<rect x="1434" y="473" width="2" height="1" fill="#000"/>
<rect x="1434" y="506" width="2" height="1" fill="#000"/>
<rect x="1434" y="539" width="2" height="1" fill="#000"/>
<rect x="1434" y="572" width="2" height="1" fill="#000"/>
<rect x="1434" y="605" width="2" height="1" fill="#000"/>
<rect x="1434" y="638" width="2" height="1" fill="#000"/>
</g>
<text x="1438.8" y="15" fill="#000" font-size="9.0" textLength="33.26" lengthAdjust="spacingAndGlyphs">1.05410</text>
<text x="1438.8" y="48" fill="#000" font-size="9.0" textLength="33.26" lengthAdjust="spacingAndGlyphs">1.05230</text>
<text x="1438.8" y="81" fill="#000" font-size="9.0" textLength="33.26" lengthAdjust="spacingAndGlyphs">1.05055</text>
<text x="1438.8" y="114" fill="#000" font-size="9.0" textLength="33.26" lengthAdjust="spacingAndGlyphs">1.04875</text>
<text x="1438.8" y="147" fill="#000" font-size="9.0" textLength="33.26" lengthAdjust="spacingAndGlyphs">1.04700</text>
<text x="1438.8" y="213" fill="#000" font-size="9.0" textLength="33.26" lengthAdjust="spacingAndGlyphs">1.04345</text>
<text x="1438.8" y="246" fill="#000" font-size="9.0" textLength="33.26" lengthAdjust="spacingAndGlyphs">1.04165</text>
<text x="1438.8" y="279" fill="#000" font-size="9.0" textLength="33.26" lengthAdjust="spacingAndGlyphs">1.03990</text>
<text x="1438.8" y="312" fill="#000" font-size="9.0" textLength="33.26" lengthAdjust="spacingAndGlyphs">1.03810</text>
<text x="1438.8" y="345" fill="#000" font-size="9.0" textLength="33.26" lengthAdjust="spacingAndGlyphs">1.03630</text>
<text x="1438.8" y="378" fill="#000" font-size="9.0" textLength="33.26" lengthAdjust="spacingAndGlyphs">1.03455</text>
<text x="1438.8" y="411" fill="#000" font-size="9.0" textLength="33.26" lengthAdjust="spacingAndGlyphs">1.03275</text>
<text x="1438.8" y="444" fill="#000" font-size="9.0" textLength="33.26" lengthAdjust="spacingAndGlyphs">1.03100</text>
<text x="1438.8" y="477" fill="#000" font-size="9.0" textLength="33.26" lengthAdjust="spacingAndGlyphs">1.02920</text>
<text x="1438.8" y="510" fill="#000" font-size="9.0" textLength="33.26" lengthAdjust="spacingAndGlyphs">1.02745</text>
<text x="1438.8" y="543" fill="#000" font-size="9.0" textLength="33.26" lengthAdjust="spacingAndGlyphs">1.02565</text>
<text x="1438.8" y="576" fill="#000" font-size="9.0" textLength="33.26" lengthAdjust="spacingAndGlyphs">1.02390</text>
<text x="1438.8" y="609" fill="#000" font-size="9.0" textLength="33.26" lengthAdjust="spacingAndGlyphs">1.02210</text>
<text x="1438.8" y="642" fill="#000" font-size="9.0" textLength="33.26" lengthAdjust="spacingAndGlyphs">1.02035</text>
<rect x="1435" y="29" width="41" height="11" fill="#f00000" shape-rendering="crispEdges"/>
<text x="1438.8" y="38" fill="#fff" font-size="9.0" textLength="33.26" lengthAdjust="spacingAndGlyphs">1.05278</text>
<rect x="1435" y="169" width="41" height="11" fill="#f00000" shape-rendering="crispEdges"/>
<text x="1438.8" y="178" fill="#fff" font-size="9.0" textLength="33.26" lengthAdjust="spacingAndGlyphs">1.04525</text>
<rect x="1435" y="313" width="41" height="11" fill="#000" shape-rendering="crispEdges"/>
<text x="1438.8" y="322" fill="#fff" font-size="9.0" textLength="33.26" lengthAdjust="spacingAndGlyphs">1.03755</text>
<rect x="1435" y="390" width="41" height="11" fill="#f00000" shape-rendering="crispEdges"/>
<text x="1438.8" y="399" fill="#fff" font-size="9.0" textLength="33.26" lengthAdjust="spacingAndGlyphs">1.03337</text>
<rect x="1435" y="619" width="41" height="11" fill="#f00000" shape-rendering="crispEdges"/>
<text x="1438.8" y="628" fill="#fff" font-size="9.0" textLength="33.26" lengthAdjust="spacingAndGlyphs">1.02106</text>
<g shape-rendering="crispEdges">
<line x1="4" y1="668.5" x2="1432" y2="668.5" stroke="#b0b0b0" stroke-width="1" stroke-dasharray="3,3"/>
<line x1="4" y1="703.5" x2="1432" y2="703.5" stroke="#b0b0b0" stroke-width="1" stroke-dasharray="3,3"/>
<line x1="4" y1="737.5" x2="1432" y2="737.5" stroke="#b0b0b0" stroke-width="1" stroke-dasharray="3,3"/>
</g>
<polyline points="3.5,704.5 11.5,706.5 19.5,705.5 27.5,705.5 35.5,706.5 43.5,702.0 51.5,711.2 59.5,714.2 67.5,705.5 75.5,705.5 83.5,705.5 91.5,705.5 99.5,709.1 107.5,696.4 115.5,705.5 123.5,711.4 131.5,711.4 139.5,711.4 147.5,712.4 155.5,712.4 163.5,701.4 171.5,714.6 179.5,729.2 187.5,729.2 195.5,730.4 203.5,721.3 211.5,718.3 219.5,705.7 227.5,709.6 235.5,713.0 243.5,705.5 251.5,704.0 259.5,700.0 267.5,698.4 275.5,699.4 283.5,699.4 291.5,694.7 299.5,693.3 307.5,691.3 315.5,696.0 323.5,696.4 331.5,700.8 339.5,706.5 347.5,704.9 355.5,701.4 363.5,700.4 371.5,700.4 379.5,702.5 387.5,698.4 395.5,703.5 403.5,715.0 411.5,713.2 419.5,718.0 427.5,714.2 435.5,711.6 443.5,712.6 451.5,714.2 459.5,715.4 467.5,716.2 475.5,715.0 483.5,710.6 491.5,708.1 499.5,701.4 507.5,696.4 515.5,696.4 523.5,697.0 531.5,692.3 539.5,706.1 547.5,685.6 555.5,696.0 563.5,692.9 571.5,688.7 579.5,691.3 587.5,698.0 595.5,692.3 603.5,687.6 611.5,688.3 619.5,689.3 627.5,685.2 635.5,684.2 643.5,682.6 651.5,687.2 659.5,684.6 667.5,688.3 675.5,693.3 683.5,693.3 691.5,691.3 699.5,691.3 707.5,695.4 715.5,699.0 723.5,697.4 731.5,702.0 739.5,702.5 747.5,702.5 755.5,702.5 763.5,699.4 771.5,708.1 779.5,706.5 787.5,713.0 795.5,708.5 803.5,709.6 811.5,706.5 819.5,703.5 827.5,699.4 835.5,688.3 843.5,685.2 851.5,690.3 859.5,689.3 867.5,698.4 875.5,696.4 883.5,700.0 891.5,701.4 899.5,687.2 907.5,687.2 915.5,701.0 923.5,702.5 931.5,701.4 939.5,702.5 947.5,703.5 955.5,699.4 963.5,700.4 971.5,693.3 979.5,691.9 987.5,689.3 995.5,689.3 1003.5,698.4 1011.5,696.4 1019.5,701.4 1027.5,698.4 1035.5,701.4 1043.5,704.5 1051.5,708.1 1059.5,701.4 1067.5,717.7 1075.5,720.7 1083.5,723.1 1091.5,725.2 1099.5,723.1 1107.5,721.1 1115.5,716.7 1123.5,718.7 1131.5,722.7" fill="none" stroke="#7b22a0" stroke-width="1" shape-rendering="crispEdges"/>
<text x="6.2" y="656" fill="#000" font-size="9.0" textLength="68.99" lengthAdjust="spacingAndGlyphs">RSI(14) 32.3573</text>
<g shape-rendering="crispEdges">
<rect x="1434" y="644" width="2" height="1" fill="#000"/>
<rect x="1434" y="668" width="2" height="1" fill="#000"/>
<rect x="1434" y="703" width="2" height="1" fill="#000"/>
<rect x="1434" y="737" width="2" height="1" fill="#000"/>
<rect x="1434" y="760" width="2" height="1" fill="#000"/>
</g>
<text x="1437" y="654" fill="#000" font-size="9.0" textLength="15.35" lengthAdjust="spacingAndGlyphs">100</text>
<text x="1437" y="672" fill="#000" font-size="9.0" textLength="10.24" lengthAdjust="spacingAndGlyphs">80</text>
<text x="1437" y="707" fill="#000" font-size="9.0" textLength="10.24" lengthAdjust="spacingAndGlyphs">50</text>
<text x="1437" y="741" fill="#000" font-size="9.0" textLength="10.24" lengthAdjust="spacingAndGlyphs">20</text>
<text x="1437" y="758" fill="#000" font-size="9.0" textLength="5.12" lengthAdjust="spacingAndGlyphs">0</text>
<g shape-rendering="crispEdges">
<rect x="3" y="762" width="1" height="3" fill="#000"/>
<rect x="67" y="762" width="1" height="3" fill="#000"/>
<rect x="131" y="762" width="1" height="3" fill="#000"/>
<rect x="195" y="762" width="1" height="3" fill="#000"/>
<rect x="259" y="762" width="1" height="3" fill="#000"/>
<rect x="323" y="762" width="1" height="3" fill="#000"/>
<rect x="387" y="762" width="1" height="3" fill="#000"/>
<rect x="451" y="762" width="1" height="3" fill="#000"/>
<rect x="515" y="762" width="1" height="3" fill="#000"/>
<rect x="579" y="762" width="1" height="3" fill="#000"/>
<rect x="643" y="762" width="1" height="3" fill="#000"/>
<rect x="707" y="762" width="1" height="3" fill="#000"/>
<rect x="771" y="762" width="1" height="3" fill="#000"/>
<rect x="835" y="762" width="1" height="3" fill="#000"/>
<rect x="899" y="762" width="1" height="3" fill="#000"/>
<rect x="963" y="762" width="1" height="3" fill="#000"/>
<rect x="1027" y="762" width="1" height="3" fill="#000"/>
<rect x="1091" y="762" width="1" height="3" fill="#000"/>
</g>
<text x="2.5" y="774" fill="#000" font-size="9.0" textLength="50.66" lengthAdjust="spacingAndGlyphs">28 Jan 2025</text>
<text x="66.5" y="774" fill="#000" font-size="9.0" textLength="53.2" lengthAdjust="spacingAndGlyphs">29 Jan 16:00</text>
<text x="130.5" y="774" fill="#000" font-size="9.0" textLength="53.2" lengthAdjust="spacingAndGlyphs">31 Jan 00:00</text>
<text x="194.5" y="774" fill="#000" font-size="9.0" textLength="51.51" lengthAdjust="spacingAndGlyphs">3 Feb 08:00</text>
<text x="258.5" y="774" fill="#000" font-size="9.0" textLength="51.51" lengthAdjust="spacingAndGlyphs">4 Feb 16:00</text>
<text x="322.5" y="774" fill="#000" font-size="9.0" textLength="51.51" lengthAdjust="spacingAndGlyphs">6 Feb 00:00</text>
<text x="386.5" y="774" fill="#000" font-size="9.0" textLength="51.51" lengthAdjust="spacingAndGlyphs">7 Feb 08:00</text>
<text x="450.5" y="774" fill="#000" font-size="9.0" textLength="55.7" lengthAdjust="spacingAndGlyphs">10 Feb 16:00</text>
<text x="514.5" y="774" fill="#000" font-size="9.0" textLength="55.7" lengthAdjust="spacingAndGlyphs">12 Feb 00:00</text>
<text x="578.5" y="774" fill="#000" font-size="9.0" textLength="55.7" lengthAdjust="spacingAndGlyphs">13 Feb 08:00</text>
<text x="642.5" y="774" fill="#000" font-size="9.0" textLength="55.7" lengthAdjust="spacingAndGlyphs">14 Feb 16:00</text>
<text x="706.5" y="774" fill="#000" font-size="9.0" textLength="55.7" lengthAdjust="spacingAndGlyphs">18 Feb 00:00</text>
<text x="770.5" y="774" fill="#000" font-size="9.0" textLength="55.7" lengthAdjust="spacingAndGlyphs">19 Feb 08:00</text>
<text x="834.5" y="774" fill="#000" font-size="9.0" textLength="55.7" lengthAdjust="spacingAndGlyphs">20 Feb 16:00</text>
<text x="898.5" y="774" fill="#000" font-size="9.0" textLength="55.7" lengthAdjust="spacingAndGlyphs">24 Feb 00:00</text>
<text x="962.5" y="774" fill="#000" font-size="9.0" textLength="55.7" lengthAdjust="spacingAndGlyphs">25 Feb 08:00</text>
<text x="1026.5" y="774" fill="#000" font-size="9.0" textLength="55.7" lengthAdjust="spacingAndGlyphs">26 Feb 16:00</text>
<text x="1090.5" y="774" fill="#000" font-size="9.0" textLength="55.7" lengthAdjust="spacingAndGlyphs">28 Feb 00:00</text>
</svg>
</body></html>
